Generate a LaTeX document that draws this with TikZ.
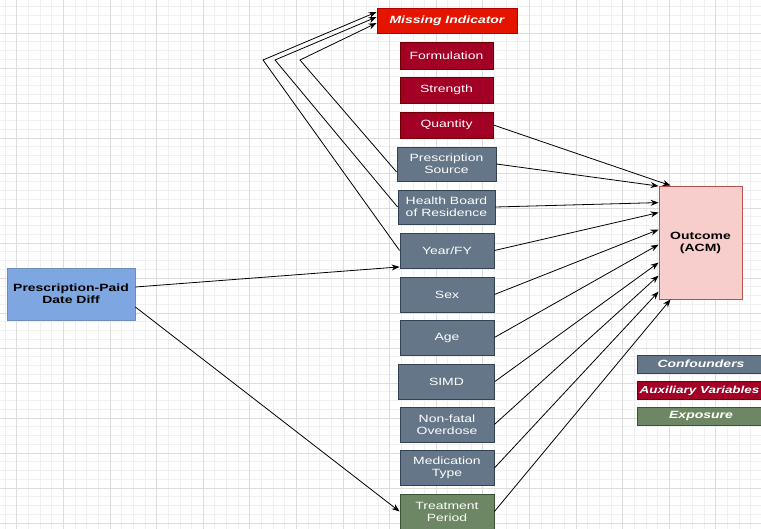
\documentclass[tikz,border=0pt]{standalone}
\usepackage{fontspec}
\setmainfont[FakeStretch=1.33]{Liberation Sans}
\usetikzlibrary{arrows.meta,calc}
\definecolor{slate}{HTML}{647687}
\definecolor{slateD}{HTML}{314354}
\definecolor{crim}{HTML}{A20025}
\definecolor{crimD}{HTML}{6F0000}
\definecolor{redbox}{HTML}{E51400}
\definecolor{redboxD}{HTML}{B20000}
\definecolor{grn}{HTML}{6D8764}
\definecolor{grnD}{HTML}{3A5431}
\definecolor{blu}{HTML}{7EA6E0}
\definecolor{bluD}{HTML}{6C8EBF}
\definecolor{pnk}{HTML}{F8CECC}
\definecolor{pnkD}{HTML}{B85450}
\definecolor{gmaj}{HTML}{DDDDDD}
\definecolor{gmin}{HTML}{F0F0F0}
\tikzset{
  box/.style={draw, rectangle, text=white, align=center, inner sep=0pt, line width=0.8pt,
    font=\fontsize{10.5}{12}\selectfont},
  conf/.style={box, fill=slate, draw=slateD, minimum width=94pt, minimum height=35pt},
  auxv/.style={box, fill=crim, draw=crimD, minimum width=93pt, minimum height=26pt},
  expo/.style={box, fill=grn, draw=grnD, minimum width=94pt, minimum height=35pt},
  legbox/.style={box, minimum width=128pt, minimum height=18pt, font=\fontsize{10.5}{12}\selectfont\bfseries\itshape},
  arr/.style={-{Stealth[length=8pt,width=6pt]}, line width=0.8pt, black},
  gridmin/.style={gmin, line width=0.6pt},
  gridmaj/.style={gmaj, line width=0.8pt}
}
\begin{document}
\begin{tikzpicture}[x=1pt,y=-1pt]
\useasboundingbox (0,0) rectangle (761,529);
\fill[white] (0,0) rectangle (761,529);
\begin{scope}
\clip (0,0) rectangle (761,529);
\foreach \i in {-1,...,66} {\draw[gridmin] ({5.05+\i*11.65},0) -- ({5.05+\i*11.65},529);}
\foreach \j in {-1,...,61} {\draw[gridmin] (0,{6.75+\j*8.75}) -- (761,{6.75+\j*8.75});}
\foreach \i in {0,...,16} {\draw[gridmaj] ({16.7+\i*46.6},0) -- ({16.7+\i*46.6},529);}
\foreach \j in {0,...,15} {\draw[gridmaj] (0,{-2+\j*35}) -- (761,{-2+\j*35});}
\end{scope}

% nodes
\node[box, fill=redbox, draw=redboxD, minimum width=140pt, minimum height=25pt,
  font=\fontsize{10.5}{12}\selectfont\bfseries\itshape] (mi) at (447,20.5) {Missing Indicator};
\node[auxv, minimum height=27pt] (form) at (446.5,55.5) {Formulation};
\node[auxv] (str) at (446.5,90) {Strength};
\node[auxv] (qty) at (446.5,125) {Quantity};
\node[conf, minimum width=99pt, minimum height=34pt] (ps) at (446.5,164) {Prescription\\Source};
\node[conf, minimum width=97pt, minimum height=34pt] (hb) at (446.5,207) {Health Board\\of Residence};
\node[conf] (yr) at (447,250.5) {Year/FY};
\node[conf] (sex) at (447,294.5) {Sex};
\node[conf] (age) at (447,337.5) {Age};
\node[conf, minimum width=96pt] (simd) at (446.5,381.5) {SIMD};
\node[conf] (nf) at (447,424.5) {Non-fatal\\Overdose};
\node[conf] (med) at (447,468) {Medication\\Type};
\node[expo] (tp) at (447,511.5) {Treatment\\Period};
\node[box, fill=blu, draw=bluD, text=black, minimum width=128pt, minimum height=52pt,
  font=\fontsize{10.5}{12}\selectfont\bfseries] (ppd) at (71,294) {Prescription-Paid\\Date Diff};
\node[box, fill=pnk, draw=pnkD, text=black, minimum width=83pt, minimum height=113pt,
  font=\fontsize{10.5}{12}\selectfont\bfseries] (out) at (700.5,242.5) {Outcome\\(ACM)};

% legend
\node[legbox, fill=slate, draw=slateD] (lc) at (701,364) {Confounders};
\node[legbox, fill=crim, draw=crimD] (la) at (701,390.5) {};
\node[font=\fontsize{10.1}{12}\selectfont\bfseries\itshape, text=white, inner sep=0pt]
  (lat) at (699.5,390.5) {Auxiliary Variables};
\node[legbox, fill=grn, draw=grnD] (le) at (701,416) {Exposure};

% bend points
\coordinate (b1) at (263,60);
\coordinate (b2) at (275,60);
\coordinate (b3) at (300,60);

% missing indicator arrows
\draw[arr] (yr.west) -- (b1) -- ($(mi.west)+(0,-8.5)$);
\draw[arr] (hb.west) -- (b2) -- ($(mi.west)+(0,-3.5)$);
\draw[arr] ($(ps.west)+(0,8)$) -- (b3) -- ($(mi.west)+(0,2.5)$);

% exposure arrows
\draw[arr] ($(ppd.east)+(0,-7)$) -- ($(yr.south west)+(0,-1.5)$);
\draw[arr] ($(ppd.east)+(0,13)$) -- (tp.west);

% to outcome
\draw[arr] (qty.east) -- ($(out.north west)+(12,0)$);
\draw[arr] (ps.east) -- ($(out.north west)+(0,0.5)$);
\draw[arr] (hb.east) -- ($(out.north west)+(0,17)$);
\draw[arr] (yr.east) -- ($(out.north west)+(0,27)$);
\draw[arr] (sex.east) -- ($(out.north west)+(0,44)$);
\draw[arr] (age.east) -- ($(out.north west)+(0,59)$);
\draw[arr] (simd.east) -- ($(out.north west)+(0,77)$);
\draw[arr] (nf.east) -- ($(out.north west)+(0,90)$);
\draw[arr] (med.east) -- ($(out.north west)+(0,106)$);
\draw[arr] (tp.east) -- ($(out.south west)+(12,0)$);
\end{tikzpicture}
\end{document}
